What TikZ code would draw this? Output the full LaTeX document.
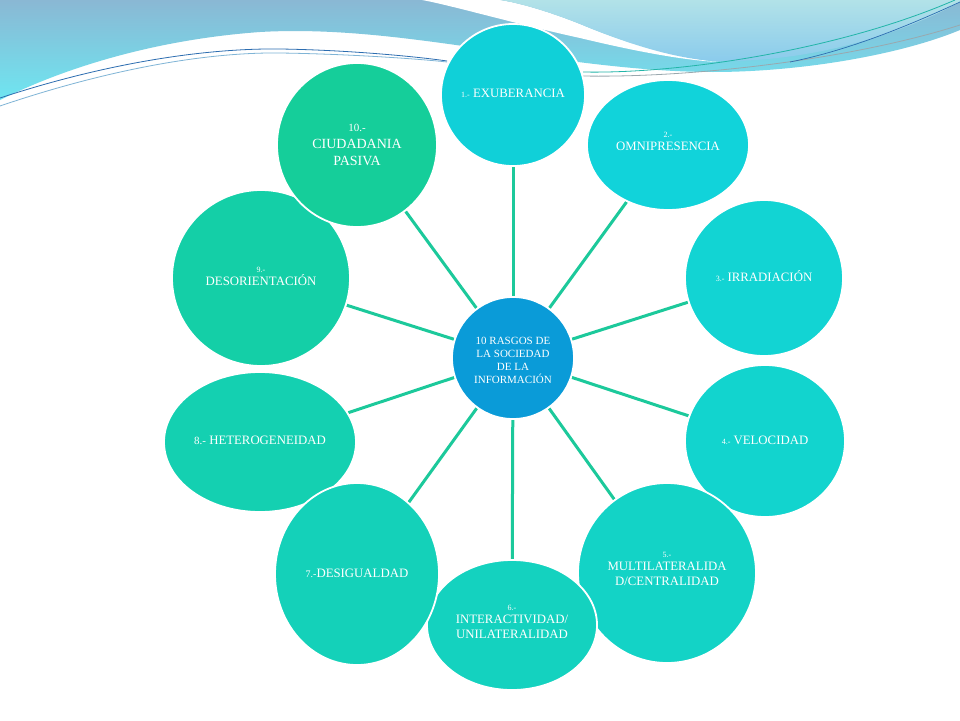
\documentclass[tikz,border=0pt]{standalone}
\usepackage{fontspec}
\setmainfont{Liberation Serif}
\usetikzlibrary{shapes.geometric}
\pgfdeclarelayer{back}
\pgfdeclarelayer{links}
\pgfsetlayers{back,links,main}
\definecolor{cA}{HTML}{10D0D8}
\definecolor{cB}{HTML}{11D3DA}
\definecolor{cC}{HTML}{12D4D3}
\definecolor{cD}{HTML}{12D4CE}
\definecolor{cE}{HTML}{13D3C6}
\definecolor{cF}{HTML}{14D2BF}
\definecolor{cG}{HTML}{14D1B9}
\definecolor{cH}{HTML}{14D0B1}
\definecolor{cI}{HTML}{14CFA7}
\definecolor{cJ}{HTML}{15CE9A}
\definecolor{cCenter}{HTML}{0A9BD8}
\definecolor{linkc}{HTML}{1CC99B}
\definecolor{waveTop}{HTML}{8AB8D4}
\definecolor{waveBot}{HTML}{6EE6F1}
\definecolor{wave2Top}{HTML}{B2E2E8}
\definecolor{wave2Bot}{HTML}{8ACBEC}
\definecolor{lineBlue}{HTML}{2C6DB0}
\definecolor{lineLight}{HTML}{7FB4D6}
\definecolor{lineTeal}{HTML}{22B5A8}
\definecolor{lineGrey}{HTML}{9AA8AE}
\newcommand{\numf}{\fontsize{8}{9}\selectfont}
\begin{document}
\begin{tikzpicture}[x=1pt,y=-1pt,
  bub/.style={ellipse, draw=white, line width=1.8pt, inner sep=0pt},
  lbl/.style={text=white, align=center, inner sep=0pt, font=\fontsize{12.8}{14}\selectfont},
  link/.style={draw=linkc, line width=3pt}]
\useasboundingbox (0,0) rectangle (960,720);
\begin{pgfonlayer}{back}
\fill[white] (0,0) rectangle (960,720);
% left / lower wave
\shade[top color=waveTop, bottom color=waveBot]
  (0,0) -- (960,0) -- (960,30) .. controls (900,55) and (800,72) .. (713,72)
  .. controls (640,72) and (560,60) .. (470,47)
  .. controls (400,37) and (330,28) .. (260,32)
  .. controls (150,40) and (60,70) .. (0,100) -- cycle;
% white stripe
\fill[white]
  (422,0) .. controls (450,5) and (520,25) .. (580,38)
  .. controls (630,50) and (680,60) .. (718,62)
  .. controls (680,58) and (630,45) .. (580,24)
  .. controls (550,12) and (520,3) .. (500,0) -- cycle;
% top-right wave
\shade[top color=wave2Top, bottom color=wave2Bot]
  (500,0) .. controls (520,3) and (550,12) .. (580,24)
  .. controls (630,45) and (680,60) .. (718,61)
  .. controls (790,62) and (880,45) .. (960,2) -- (960,0) -- cycle;
% thin lines left
\draw[lineBlue, line width=0.8pt] (0,98) .. controls (100,65) and (200,48) .. (280,49)
  .. controls (350,50) and (420,57) .. (447,61);
\draw[lineLight, line width=0.8pt] (0,106) .. controls (100,72) and (200,52) .. (280,53)
  .. controls (350,54) and (420,59) .. (447,62);
% thin lines right
\draw[lineTeal, line width=0.8pt] (583,72) .. controls (680,74) and (840,50) .. (955,0);
\draw[lineGrey, line width=0.8pt] (583,76) .. controls (690,78) and (850,60) .. (960,25);
\draw[lineBlue, line width=0.7pt] (790,62) .. controls (850,50) and (910,25) .. (960,2);
\end{pgfonlayer}

% bubbles
\node[bub, circle, fill=cCenter, minimum size=122pt] (c) at (513,358) {};
\node[bub, fill=cA, minimum width=144pt, minimum height=142pt] (e1) at (513,95) {};
\node[bub, fill=cB, minimum width=162pt, minimum height=130pt] (e2) at (668,145) {};
\node[bub, fill=cC, minimum width=158pt, minimum height=156pt] (e3) at (764,278) {};
\node[bub, fill=cD, minimum width=160pt, minimum height=152pt] (e4) at (765,441) {};
\node[bub, fill=cE, minimum width=178pt, minimum height=180pt] (e5) at (667,573) {};
\node[bub, fill=cF, minimum width=170pt, minimum height=130pt] (e6) at (512,625) {};
\node[bub, fill=cH, minimum width=192pt, minimum height=140pt] (e8) at (260,442) {};
\node[bub, fill=cI, minimum width=178pt, minimum height=176pt] (e9) at (261,278) {};
\node[bub, fill=cG, minimum width=164pt, minimum height=182pt] (e7) at (357,574) {};
\node[bub, fill=cJ, minimum width=160pt, minimum height=164pt] (e10) at (357,145) {};

% connectors
\begin{pgfonlayer}{links}
\foreach \i in {1,...,10} \draw[link] (c) -- (e\i);
\end{pgfonlayer}

% labels
\node[lbl, font=\fontsize{11}{13}\selectfont] (tc) at (513,360)
  {10 RASGOS DE\\LA SOCIEDAD\\DE LA\\INFORMACIÓN};
\node[lbl] (t1) at (513,93) {{\numf 1.-} EXUBERANCIA};
\node[lbl] (t2) at (668,141) {{\numf 2.-}\\[-1pt]OMNIPRESENCIA};
\node[lbl] (t3) at (764,276) {{\numf 3.-} IRRADIACIÓN};
\node[lbl] (t4) at (765,440) {{\numf 4.-} VELOCIDAD};
\node[lbl, font=\fontsize{12.8}{15}\selectfont] (t5) at (667,569) {{\numf 5.-}\\[-2pt]MULTILATERALIDA\\D/CENTRALIDAD};
\node[lbl, font=\fontsize{12.8}{15}\selectfont] (t6) at (512,622) {{\numf 6.-}\\[-2pt]INTERACTIVIDAD/\\UNILATERALIDAD};
\node[lbl] (t7) at (357,573) {{\fontsize{10}{12}\selectfont 7.-}DESIGUALDAD};
\node[lbl] (t8) at (260,440) {{\fontsize{11}{12}\selectfont 8.-} HETEROGENEIDAD};
\node[lbl] (t9) at (261,276) {{\numf 9.-}\\[-1pt]DESORIENTACIÓN};
\node[lbl, font=\fontsize{14}{17}\selectfont] (t10) at (357,145) {{\fontsize{11}{12}\selectfont 10.-}\\CIUDADANIA\\PASIVA};
\end{tikzpicture}
\end{document}
